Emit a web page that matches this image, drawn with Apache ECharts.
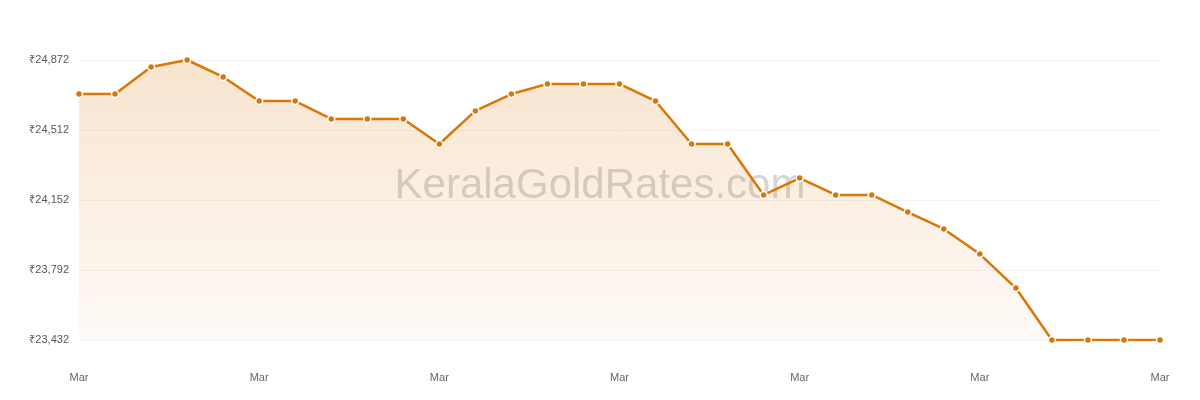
<!DOCTYPE html>
<html>
<head>
<meta charset="utf-8">
<script src="https://cdn.jsdelivr.net/npm/echarts@6/dist/echarts.min.js"></script>
<style>
  html, body { margin: 0; padding: 0; background: #fff; }
  #chart-container { width: 1200px; height: 400px; }
</style>
</head>
<body>
<div id="chart-container"></div>
<script>
const categories = Array(31).fill("Mar");
const prices = [
  24697, 24697, 24836, 24872, 24785, 24661, 24661, 24569, 24569, 24569,
  24440, 24610, 24697, 24749, 24749, 24749, 24661, 24440, 24440, 24178,
  24265, 24178, 24178, 24090, 24003, 23874, 23699, 23432, 23432, 23432, 23432,
];
const yMin = 23432;
const yMax = 24872;
const yStep = 360;

const dom = document.getElementById("chart-container");
const myChart = echarts.init(dom, null, { renderer: "canvas" });

const option = {
  backgroundColor: "#ffffff",
  animation: false,
  graphic: [
    {
      type: "text",
      left: "center",
      top: 165,
      style: {
        text: "KeralaGoldRates.com",
        fontSize: 42,
        fontFamily: "Liberation Sans, Arial, sans-serif",
        fill: "rgba(150,150,150,0.4)",
      },
    },
  ],
  grid: { left: 79, right: 40, top: 60, bottom: 60 },
  xAxis: {
    type: "category",
    boundaryGap: false,
    data: categories,
    axisLine: { show: false },
    axisTick: { show: false },
    axisLabel: {
      interval: 4,
      color: "#666",
      fontSize: 11,
      margin: 32,
      fontFamily: "Liberation Sans, Arial, sans-serif",
    },
  },
  yAxis: {
    type: "value",
    min: yMin,
    max: yMax,
    interval: yStep,
    axisLine: { show: false },
    axisTick: { show: false },
    splitLine: { lineStyle: { color: "#f3f3f3" } },
    axisLabel: {
      color: "#555",
      fontSize: 11,
      margin: 10,
      fontFamily: "Liberation Sans, Arial, sans-serif",
      formatter: (v) => "₹" + v.toLocaleString("en"),
    },
  },
  series: [
    {
      type: "line",
      data: prices,
      symbol: "circle",
      symbolSize: 7,
      lineStyle: { color: "#d97706", width: 2.5 },
      itemStyle: { color: "#d97706", borderColor: "#fff", borderWidth: 1.5 },
      areaStyle: {
        color: new echarts.graphic.LinearGradient(0, 0, 0, 1, [
          { offset: 0, color: "rgba(217,119,6,0.28)" },
          { offset: 1, color: "rgba(217,119,6,0.05)" },
        ]),
      },
    },
  ],
};

myChart.setOption(option);
window.addEventListener("resize", myChart.resize);
</script>
</body>
</html>
